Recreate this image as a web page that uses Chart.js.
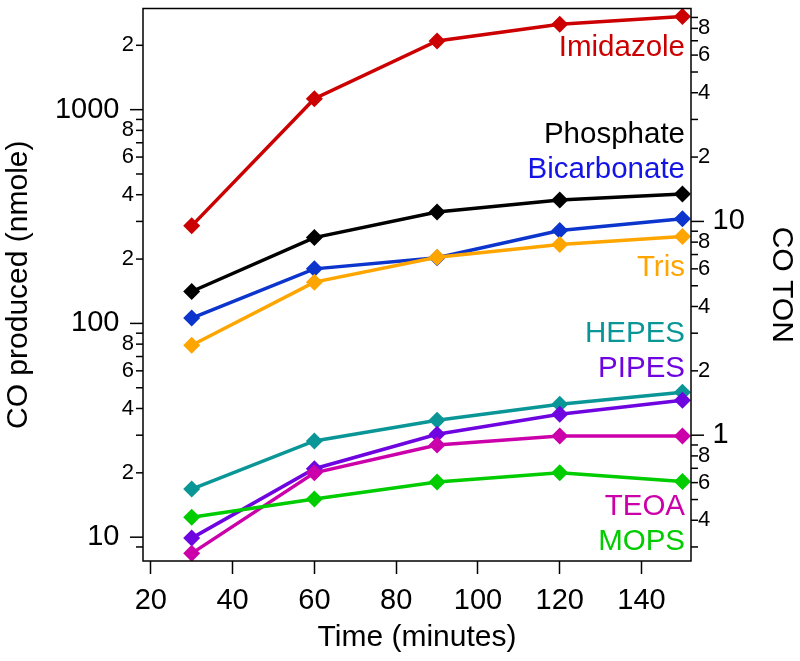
<!DOCTYPE html>
<html><head><meta charset="utf-8">
<script src="https://cdn.jsdelivr.net/npm/chart.js@4"></script>
<style>html,body{margin:0;padding:0;background:#fff}#wrap{width:800px;height:661px}</style>
</head><body><div id="wrap"><canvas id="c" width="800" height="661"></canvas></div>
<script>
// ---- data ----
const times = [30, 60, 90, 120, 150];
const imidazole   = [286, 1125, 2097, 2506, 2730];
const phosphate   = [141, 252, 332, 378, 403];
const bicarbonate = [106, 180, 203, 272, 309];
const tris        = [79, 156, 204, 234, 255];
const hepes       = [16.8, 28.2, 35.2, 41.9, 47.6];
const pipes       = [9.9, 20.9, 30.3, 37.6, 43.7];
const teoa        = [8.4, 20.0, 27.0, 29.7, 29.7];
const mops        = [12.4, 15.1, 18.1, 20.0, 18.2];
const seriesNames = ['Imidazole','Phosphate','Bicarbonate','Tris','HEPES','PIPES','TEOA','MOPS'];
const seriesValues = [imidazole, phosphate, bicarbonate, tris, hepes, pipes, teoa, mops];
const xTicks = [20, 40, 60, 80, 100, 120, 140];
const yTicks = [9, 10, 20, 30, 40, 50, 60, 70, 80, 90, 100, 200, 300, 400, 500, 600, 700, 800, 900, 1000, 2000];
const tonTicks = [0.3, 0.4, 0.5, 0.6, 0.7, 0.8, 0.9, 1, 2, 3, 4, 5, 6, 7, 8, 9, 10, 20, 30, 40, 50, 60, 70, 80, 90];
const nmolePerTon = 30;
// where each series name sits (in nmole, at the right edge)
const nameAnchors = [1940, 766, 525, 182, 89.4, 61.2, 13.9, 9.48];

// ---- styles ----
const lineColors = ['#cc0000', '#000000', '#0b35cc', '#ffa500', '#0a9696', '#6e05e0', '#cc00aa', '#00cc00'];
const textColors = ['#cc0000', '#000000', '#1414e6', '#ffa500', '#0a9696', '#6e05e0', '#cc00aa', '#00cc00'];
const FONT = "'Liberation Sans', Arial, Helvetica, sans-serif";
const yMin = 7.737, yMax = 2973;

function isDecade(v){ const l = Math.log10(v); return Math.abs(l - Math.round(l)) < 1e-9; }
function leadDigit(v){ return Math.round(v / Math.pow(10, Math.floor(Math.log10(v) + 1e-9))); }
function minorLabel(v){ const d = leadDigit(v); return (d % 2 === 0) ? String(d) : ''; }

const datasets = seriesNames.map((n, i) => ({
  label: n,
  data: times.map((t, j) => ({x: t, y: seriesValues[i][j]})),
  borderColor: lineColors[i],
  backgroundColor: lineColors[i],
  borderWidth: 3.5,
  pointStyle: 'rectRot',
  pointRadius: 8.5,
  pointHoverRadius: 8.5,
  pointBorderWidth: 0,
  tension: 0
})).reverse();

const framePlugin = {
  id: 'frameTicks',
  afterDraw(chart) {
    const ctx = chart.ctx, a = chart.chartArea;
    ctx.save();
    ctx.strokeStyle = '#000';
    ctx.lineWidth = 1.5;
    [['y', a.left, -1], ['y2', a.right, 1]].forEach(([id, x0, dir]) => {
      const s = chart.scales[id];
      s.ticks.forEach(t => {
        const y = s.getPixelForValue(t.value);
        if (y < a.top - 0.5 || y > a.bottom + 0.5) return;
        const len = isDecade(t.value) ? 13 : 7;
        ctx.beginPath(); ctx.moveTo(x0, y); ctx.lineTo(x0 + dir * len, y); ctx.stroke();
      });
    });
    ctx.strokeRect(a.left, a.top, a.right - a.left, a.bottom - a.top);
    ctx.restore();
  },
  afterDatasetsDraw(chart) {
    const ctx = chart.ctx, a = chart.chartArea, sy = chart.scales.y;
    ctx.save();
    ctx.font = '29.5px ' + FONT;
    ctx.textAlign = 'right';
    ctx.textBaseline = 'middle';
    seriesNames.forEach((n, i) => {
      ctx.fillStyle = textColors[i];
      ctx.fillText(n, a.right - 6, sy.getPixelForValue(nameAnchors[i]));
    });
    ctx.restore();
  }
};

function noPad(s){ s.paddingTop = 0; s.paddingBottom = 0; s.paddingLeft = 0; s.paddingRight = 0; }

Chart.defaults.font.family = FONT;
Chart.defaults.color = '#000';

new Chart(document.getElementById('c'), {
  type: 'line',
  data: { datasets },
  options: {
    responsive: false,
    animation: false,
    events: [],
    layout: { padding: { top: 4, left: 0, right: 0, bottom: 0 } },
    plugins: { legend: { display: false }, tooltip: { enabled: false } },
    scales: {
      x: {
        type: 'linear', min: 18.09, max: 152.1,
        afterBuildTicks: s => { s.ticks = xTicks.map(v => ({value: v})); },
        afterFit: s => { s.height = 100; noPad(s); },
        border: { display: false },
        grid: { display: true, drawOnChartArea: false, drawTicks: true, tickLength: 13, tickWidth: 1.5, tickColor: '#000' },
        ticks: { autoSkip: false, maxRotation: 0, padding: 10, font: { size: 29 }, color: '#000', callback: v => String(v) },
        title: { display: true, text: 'Time (minutes)', font: { size: 30 }, color: '#000', padding: { top: 0, bottom: 5 } }
      },
      y: {
        type: 'logarithmic', position: 'left', min: yMin, max: yMax,
        afterBuildTicks: s => { s.ticks = yTicks.map(v => ({value: v})); },
        afterFit: s => { s.width = 143; noPad(s); },
        border: { display: false },
        grid: { display: false, drawTicks: false },
        ticks: {
          autoSkip: false, padding: 9, color: '#000',
          font: c => ({ size: isDecade(c.tick.value) ? 29 : 22 }),
          callback: v => isDecade(v) ? String(v) + '\u2002' : minorLabel(v)
        },
        title: { display: true, text: 'CO produced (nmole)', font: { size: 30 }, color: '#000', padding: { top: 1, bottom: 0 } }
      },
      y2: {
        type: 'logarithmic', position: 'right', min: yMin / nmolePerTon, max: yMax / nmolePerTon,
        afterBuildTicks: s => { s.ticks = tonTicks.map(v => ({value: v})); },
        afterFit: s => { s.width = 109; noPad(s); },
        border: { display: false },
        grid: { display: false, drawTicks: false },
        ticks: {
          autoSkip: false, padding: 7, color: '#000',
          font: c => ({ size: isDecade(c.tick.value) ? 29 : 22 }),
          callback: v => isDecade(v) ? '\u2002' + String(v) : minorLabel(v)
        },
        title: { display: true, text: 'CO TON', font: { size: 30 }, color: '#000', padding: { top: 1, bottom: 0 } }
      }
    }
  },
  plugins: [framePlugin]
});
</script>
</body></html>
